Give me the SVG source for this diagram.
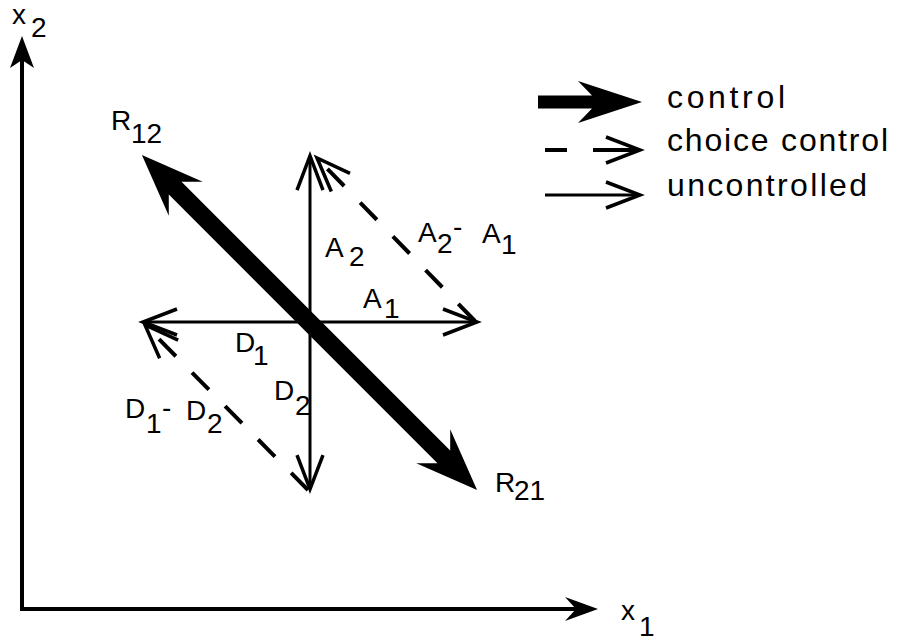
<svg xmlns="http://www.w3.org/2000/svg" width="913" height="637" viewBox="0 0 913 637">
<style>
.lbl{font-family:"Liberation Sans",Arial,sans-serif;font-size:28px;fill:#000}
.leg{font-family:"Liberation Sans",Arial,sans-serif;font-size:32px;fill:#000}
.thin{stroke:#000;stroke-width:3;fill:none}
.dash{stroke:#000;stroke-width:4;fill:none;stroke-dasharray:24 23}
.axis{stroke:#000;stroke-width:4;fill:none}
.solid{fill:#000;stroke:none}
</style>
<defs>
<marker id="head" markerUnits="userSpaceOnUse" viewBox="-40 -16 44 32" markerWidth="44" markerHeight="32" refX="0" refY="0" orient="auto" overflow="visible">
<path d="M-34,-13 L0,0 L-34,13" fill="none" stroke="#000" stroke-width="3.5" stroke-linejoin="miter"/>
</marker>
</defs>
<g id="axes">
<line class="axis" x1="22" y1="611" x2="22" y2="60"/>
<polygon class="solid" points="22,36 10,68 22,60 34,68"/>
<line class="axis" x1="20" y1="609" x2="576" y2="609"/>
<polygon class="solid" points="598,609 565,597 576,609 565,621"/>
<text class="lbl" x="12" y="24">x</text><text class="lbl" x="31" y="37">2</text>
<text class="lbl" x="621" y="620">x</text><text class="lbl" x="639" y="636">1</text>
</g>
<g id="connectors">
<line class="thin" x1="310" y1="322" x2="310" y2="156" marker-end="url(#head)"/>
<line class="thin" x1="310" y1="322" x2="477" y2="322" marker-end="url(#head)"/>
<line class="thin" x1="310" y1="322" x2="143" y2="322" marker-end="url(#head)"/>
<line class="thin" x1="310" y1="322" x2="310" y2="489" marker-end="url(#head)"/>
<line class="dash" x1="475" y1="321" x2="317" y2="158" marker-end="url(#head)"/>
<line class="dash" x1="308" y1="490" x2="145" y2="325" marker-end="url(#head)"/>
<polygon id="R" class="solid" transform="translate(309.5,322.5) rotate(45)" points="237,0 175,24 190,9 -190,9 -175,24 -237,0 -175,-24 -190,-9 190,-9 175,-24"/>
</g>
<g id="labels">
<g id="R12"><text class="lbl" x="111" y="130">R</text><text class="lbl" x="131" y="143">12</text></g>
<g id="A2"><text class="lbl" x="325" y="257">A</text><text class="lbl" x="349" y="266">2</text></g>
<g id="A2-A1"><text class="lbl" x="418" y="242">A</text><text class="lbl" x="437" y="253">2</text><text class="lbl" x="453" y="236">-</text><text class="lbl" x="482" y="243">A</text><text class="lbl" x="501" y="254">1</text></g>
<g id="A1"><text class="lbl" x="363" y="308">A</text><text class="lbl" x="384" y="318">1</text></g>
<g id="D1"><text class="lbl" x="235" y="352">D</text><text class="lbl" x="253" y="365">1</text></g>
<g id="D2"><text class="lbl" x="274" y="400">D</text><text class="lbl" x="295" y="415">2</text></g>
<g id="D1-D2"><text class="lbl" x="125" y="418">D</text><text class="lbl" x="146" y="433">1</text><text class="lbl" x="162" y="417">-</text><text class="lbl" x="186" y="420">D</text><text class="lbl" x="207" y="433">2</text></g>
<g id="R21"><text class="lbl" x="495" y="492">R</text><text class="lbl" x="514" y="500">21</text></g>
</g>
<g id="legend">
<polygon class="solid" points="538,95.5 592,95.5 578,81 642,102 578,123 592,108.5 538,108.5"/>
<line class="axis" x1="545" y1="150" x2="567" y2="150"/>
<line class="axis" x1="593" y1="150" x2="640" y2="150" marker-end="url(#head)"/>
<line class="thin" x1="545" y1="195" x2="640" y2="195" marker-end="url(#head)"/>
<text class="leg" x="667" y="108" textLength="118" lengthAdjust="spacing">control</text>
<text class="leg" x="667" y="151" textLength="221" lengthAdjust="spacing">choice control</text>
<text class="leg" x="667" y="196" textLength="200" lengthAdjust="spacing">uncontrolled</text>
</g>
</svg>
